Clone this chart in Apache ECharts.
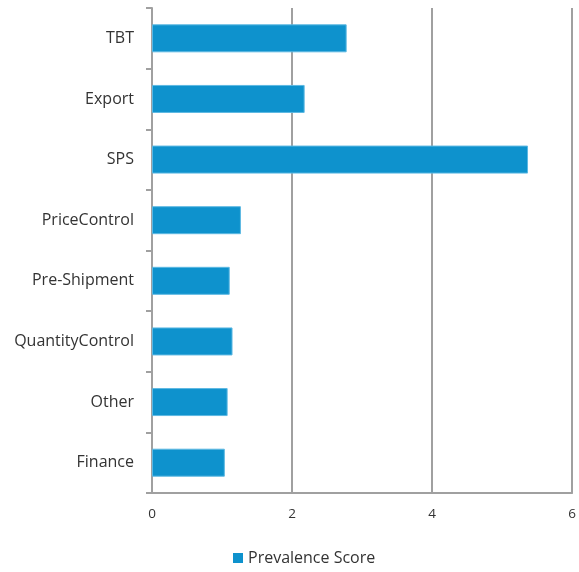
<!DOCTYPE html>
<html>
<head>
<meta charset="utf-8">
<script src="https://cdn.jsdelivr.net/npm/echarts@6/dist/echarts.min.js"></script>
<style>
  html, body { margin: 0; padding: 0; background: #ffffff; }
  #chart { width: 579px; height: 572px; }
</style>
</head>
<body>
<div id="chart"></div>
<script>
// Categories listed bottom-to-top (category axis starts at the bottom)
const categories = ['Finance', 'Other', 'QuantityControl', 'Pre-Shipment', 'PriceControl', 'SPS', 'Export', 'TBT'];
const prevalenceScore = [1.04, 1.08, 1.15, 1.11, 1.27, 5.37, 2.18, 2.78];
const seriesName = 'Prevalence Score';
const xMin = 0, xMax = 6, xStep = 2;

const font = '"Open Sans", "Noto Sans", sans-serif';
const chart = echarts.init(document.getElementById('chart'), null, { renderer: 'canvas' });

chart.setOption({
  animation: false,
  backgroundColor: '#ffffff',
  grid: { left: 152, right: 5, top: 8, bottom: 79, containLabel: false },
  legend: {
    data: [seriesName],
    bottom: 1,
    left: 228,
    icon: 'rect',
    itemWidth: 10,
    itemHeight: 10,
    itemGap: 5,
    itemStyle: { borderWidth: 0 },
    textStyle: { fontFamily: font, fontSize: 16, color: '#333333' }
  },
  xAxis: {
    type: 'value',
    min: xMin,
    max: xMax,
    interval: xStep,
    axisLine: { show: true, lineStyle: { color: '#a0a0a0', width: 2 } },
    axisTick: { show: false },
    axisLabel: { fontFamily: font, fontSize: 13.5, color: '#333333', margin: 14 },
    splitLine: { show: true, lineStyle: { color: '#a0a0a0', width: 2 } }
  },
  yAxis: {
    type: 'category',
    data: categories,
    axisLine: { show: true, lineStyle: { color: '#a0a0a0', width: 2 } },
    axisTick: { show: true, length: 6, lineStyle: { color: '#a0a0a0', width: 2 } },
    axisLabel: { fontFamily: font, fontSize: 16, color: '#333333', margin: 18 },
    splitLine: { show: false }
  },
  series: [{
    name: seriesName,
    type: 'bar',
    data: prevalenceScore,
    barWidth: 28,
    itemStyle: { color: '#0e92cd', borderColor: '#5db8e2', borderWidth: 1 }
  }]
});
</script>
</body>
</html>
